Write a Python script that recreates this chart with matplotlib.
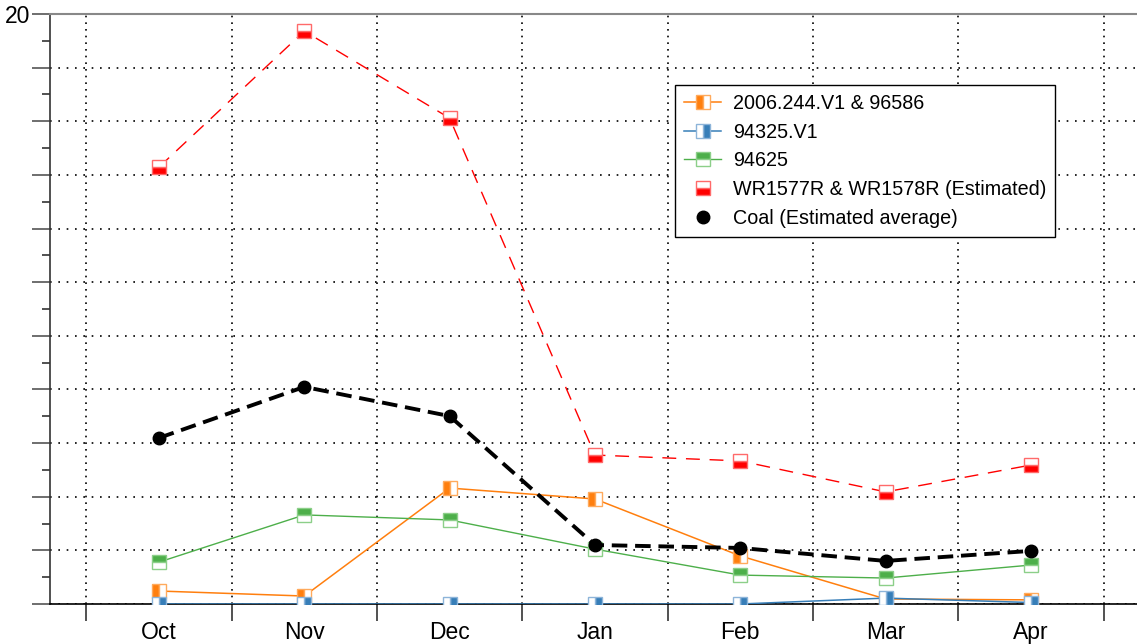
import numpy as np
import matplotlib
matplotlib.use("Agg")
import matplotlib.pyplot as plt

plt.rcParams['font.family'] = ['Liberation Sans', 'DejaVu Sans']

# data
months = ["Oct", "Nov", "Dec", "Jan", "Feb", "Mar", "Apr"]
v_2006 = [0.44, 0.27, 3.93, 3.56, 1.63, 0.17, 0.14]
v_94325 = [0.0, 0.0, 0.0, 0.0, 0.0, 0.20, 0.05]
v_94625 = [1.42, 3.02, 2.85, 1.86, 0.98, 0.88, 1.32]
v_wr = [14.81, 19.42, 16.47, 5.05, 4.85, 3.80, 4.71]
v_coal = [5.63, 7.36, 6.37, 2.00, 1.90, 1.46, 1.80]

x = np.arange(len(months))

fig = plt.figure(figsize=(11.37, 6.44), dpi=100)
ax = fig.add_axes([50 / 1137, 40 / 644, 1087 / 1137, 590 / 644])

ms = 10
ax.plot(x, v_2006, color='#ff7f0e', lw=1.1, marker='s', ms=ms, fillstyle='left',
        markerfacecolor='#ff7f0e', markerfacecoloralt='white', markeredgecolor='#ffaa5c',
        label='2006.244.V1 & 96586', zorder=3)
ax.plot(x, v_94325, color='#377eb8', lw=1.1, marker='s', ms=ms, fillstyle='right',
        markerfacecolor='#377eb8', markerfacecoloralt='white', markeredgecolor='#8db4d9',
        label='94325.V1', zorder=3)
ax.plot(x, v_94625, color='#4daf4a', lw=1.0, marker='s', ms=ms, fillstyle='top',
        markerfacecolor='#4daf4a', markerfacecoloralt='white', markeredgecolor='#8ccf89',
        label='94625', zorder=3)
ax.plot(x, v_wr, color='#ff0000', lw=1.0, ls=(0, (10, 7)), marker='s', ms=ms, fillstyle='bottom',
        markerfacecolor='#ff0000', markerfacecoloralt='white', markeredgecolor='#ff6a6a',
        label='WR1577R & WR1578R (Estimated)', zorder=3)
ax.plot(x, v_coal, color='black', lw=2.8, ls=(0, (4, 2)), marker='o', ms=9,
        label='Coal (Estimated average)', zorder=4)

ax.set_xlim(-0.75, 6.73)
ax.set_ylim(0, 20)

# x axis: labels on the months, ticks and grid between them
ax.set_xticks(x)
ax.set_xticklabels(months, fontsize=16.5)
ax.tick_params(axis='x', which='major', length=0, pad=12)
ax.set_xticks(np.arange(-0.5, 7, 1), minor=True)
ax.tick_params(axis='x', which='minor', length=12, width=1.2, color='#333333', direction='out')
ax.grid(True, axis='x', which='minor', color='black', ls=(0, (1, 3)), lw=1.2)

# y axis: only the top is labelled
yt = np.linspace(0, 20, 12)
ax.set_yticks(yt)
ax.set_yticklabels([''] * 11 + ['20'], fontsize=16.5)
ax.set_yticks((yt[:-1] + yt[1:]) / 2, minor=True)
ax.tick_params(axis='y', which='major', length=13, width=1.2, color='#555555', pad=1)
ax.tick_params(axis='y', which='minor', length=6, width=1.2, color='#333333')
ax.grid(True, axis='y', which='major', color='black', ls=(0, (1, 4)), lw=1.2)

ax.spines['right'].set_visible(False)
ax.spines['top'].set_color('#888888')
ax.spines['top'].set_linewidth(1.5)
ax.spines['left'].set_color('#333333')
ax.spines['left'].set_linewidth(1.2)
ax.spines['bottom'].set_linewidth(1.2)

leg = ax.legend(loc='upper left', bbox_to_anchor=(0.575, 0.88), fontsize=14.2,
                frameon=True, fancybox=False, framealpha=1, edgecolor='black',
                handlelength=1.9, handletextpad=0.6, labelspacing=0.5, borderpad=0.45,
                borderaxespad=0)
leg.get_frame().set_linewidth(1.0)
# dashed series show only their marker in the key
leg.get_lines()[3].set_linestyle('None')
leg.get_lines()[4].set_linestyle('None')

fig.savefig("out.png", dpi=100)
